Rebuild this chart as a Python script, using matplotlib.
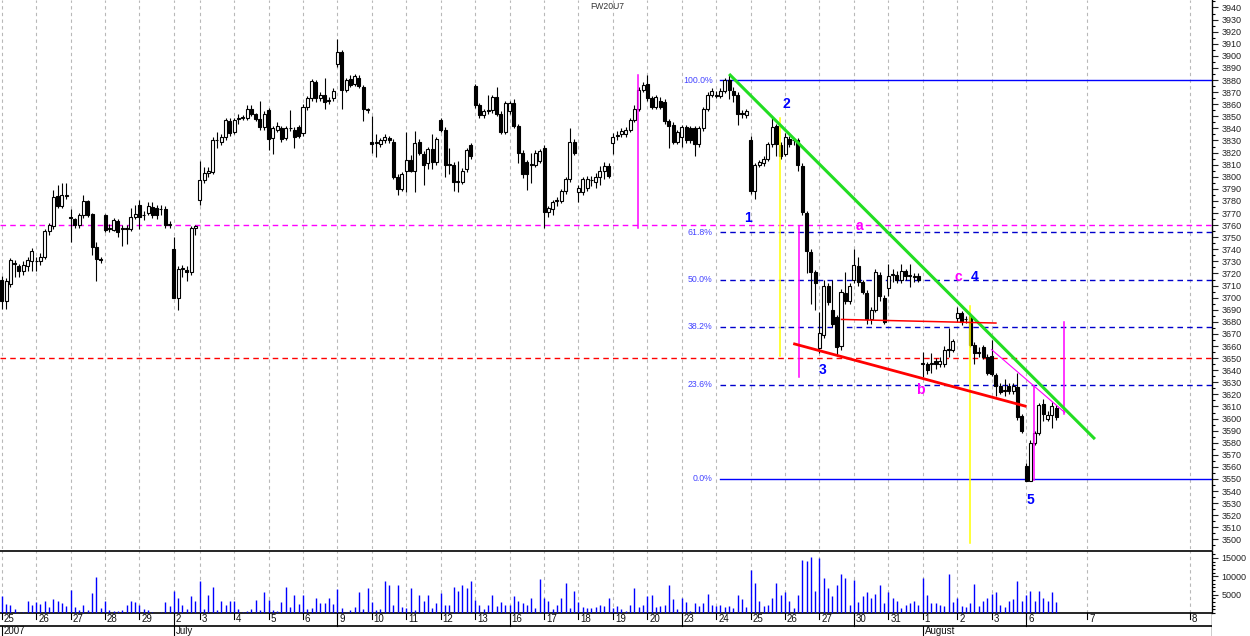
import numpy as np
import matplotlib
matplotlib.use("Agg")
import matplotlib.pyplot as plt
from matplotlib.ticker import MultipleLocator, FixedLocator

plt.rcParams['font.family'] = ['Liberation Sans', 'DejaVu Sans']

title = "FW20U7"

# trading days shown and number of bars per day
day_labels = ['25', '26', '27', '28', '29', '2', '3', '4', '5', '6', '9', '10', '11', '12', '13',
              '16', '17', '18', '19', '20', '23', '24', '25', '26', '27', '30', '31', '1', '2', '3', '6']
bars_per_day = [8, 8, 8, 8, 8, 6, 8, 8, 8, 8, 8, 8, 8, 8, 8,
                8, 8, 8, 8, 8, 8, 8, 8, 8, 8, 8, 8, 8, 8, 8, 8]
future_labels = ['7', '8']
future_pos = [252.2, 276.1]
month_labels = ['2007', 'July', 'August']
month_first_day = [0, 5, 27]
week_first_day = [5, 10, 15, 20, 25, 30]

# OHLC, one row per day
opens = [
    3715, 3697, 3711, 3729, 3726, 3722, 3726, 3730,
    3730, 3730, 3734, 3755, 3759, 3784, 3776, 3784,
    3766, 3765, 3760, 3768, 3780, 3769, 3742, 3732,
    3768, 3757, 3756, 3763, 3757, 3757, 3757, 3767,
    3777, 3768, 3770, 3775, 3774, 3773, 3773, 3760,
    3740, 3700, 3724, 3723, 3721, 3758,
    3781, 3797, 3803, 3804, 3830, 3829, 3833, 3846,
    3837, 3848, 3849, 3849, 3856, 3852, 3848, 3841,
    3855, 3832, 3839, 3840, 3832, 3840, 3839, 3841,
    3836, 3858, 3865, 3878, 3865, 3868, 3863, 3865,
    3893, 3903, 3872, 3881, 3877, 3882, 3874, 3855,
    3829, 3828, 3827, 3830, 3832, 3829, 3800, 3790,
    3805, 3814, 3805, 3829, 3819, 3811, 3823, 3812,
    3847, 3839, 3810, 3810, 3796, 3796, 3806, 3826,
    3875, 3859, 3851, 3854, 3855, 3866, 3852, 3837,
    3854, 3861, 3842, 3820, 3812, 3810, 3810, 3813,
    3824, 3771, 3773, 3780, 3780, 3788, 3798, 3829,
    3787, 3787, 3791, 3797, 3796, 3800, 3805, 3809,
    3828, 3834, 3835, 3835, 3839, 3847, 3856, 3872,
    3877, 3865, 3858, 3863, 3862, 3846, 3843, 3829,
    3833, 3841, 3840, 3840, 3827, 3840, 3856, 3868,
    3867, 3867, 3871, 3880, 3871, 3868, 3853, 3851,
    3830, 3788, 3810, 3811, 3815, 3827, 3842, 3826,
    3819, 3831, 3830, 3830, 3809, 3770, 3738, 3721,
    3658, 3669, 3710, 3690, 3684, 3660, 3704, 3697,
    3715, 3726, 3713, 3704, 3682, 3690, 3719, 3700,
    3708, 3719, 3719, 3715, 3722, 3718, 3717, 3718,
    3645, 3645, 3645, 3648, 3645, 3645, 3657, 3657,
    3683, 3687, 3682, 3685, 3661, 3654, 3659, 3651,
    3652, 3636, 3627, 3623, 3627, 3623, 3626, 3602,
    3561, 3548, 3580, 3588, 3612, 3600, 3603, 3609,
]
highs = [
    3718, 3716, 3733, 3731, 3728, 3730, 3734, 3741,
    3734, 3737, 3757, 3762, 3789, 3793, 3795, 3795,
    3773, 3766, 3770, 3785, 3781, 3770, 3746, 3734,
    3769, 3761, 3766, 3765, 3760, 3760, 3774, 3777,
    3781, 3772, 3779, 3779, 3777, 3777, 3776, 3763,
    3750, 3726, 3727, 3726, 3759, 3760,
    3813, 3808, 3808, 3833, 3837, 3835, 3849, 3849,
    3849, 3852, 3851, 3859, 3859, 3853, 3863, 3854,
    3857, 3842, 3845, 3842, 3842, 3855, 3841, 3843,
    3860, 3867, 3881, 3880, 3870, 3882, 3866, 3873,
    3914, 3905, 3882, 3884, 3885, 3884, 3876, 3857,
    3850, 3835, 3832, 3835, 3834, 3831, 3802, 3804,
    3837, 3818, 3838, 3831, 3821, 3825, 3835, 3833,
    3849, 3841, 3824, 3812, 3813, 3807, 3824, 3828,
    3877, 3861, 3856, 3868, 3868, 3874, 3854, 3863,
    3863, 3864, 3844, 3822, 3814, 3820, 3822, 3823,
    3826, 3776, 3781, 3783, 3790, 3800, 3840, 3831,
    3793, 3800, 3801, 3801, 3803, 3809, 3812, 3811,
    3836, 3838, 3840, 3841, 3849, 3859, 3874, 3878,
    3884, 3867, 3868, 3866, 3864, 3848, 3845, 3839,
    3843, 3843, 3842, 3842, 3842, 3858, 3870, 3873,
    3871, 3873, 3882, 3884, 3874, 3870, 3855, 3856,
    3834, 3811, 3814, 3817, 3829, 3849, 3844, 3829,
    3836, 3834, 3832, 3832, 3811, 3772, 3740, 3723,
    3688, 3715, 3712, 3715, 3686, 3707, 3721, 3712,
    3740, 3734, 3715, 3706, 3692, 3724, 3721, 3702,
    3728, 3724, 3722, 3728, 3724, 3728, 3720, 3720,
    3655, 3647, 3654, 3650, 3651, 3660, 3675, 3666,
    3692, 3689, 3685, 3687, 3663, 3659, 3661, 3653,
    3665, 3638, 3629, 3633, 3629, 3629, 3638, 3604,
    3563, 3582, 3590, 3613, 3616, 3606, 3614, 3611,
]
lows = [
    3691, 3691, 3709, 3717, 3717, 3719, 3722, 3722,
    3722, 3727, 3732, 3752, 3757, 3774, 3774, 3782,
    3746, 3758, 3758, 3766, 3767, 3735, 3714, 3729,
    3754, 3754, 3755, 3750, 3743, 3744, 3755, 3765,
    3757, 3764, 3768, 3766, 3765, 3768, 3758, 3758,
    3700, 3690, 3717, 3714, 3719, 3752,
    3777, 3795, 3800, 3802, 3824, 3826, 3830, 3834,
    3835, 3844, 3847, 3847, 3850, 3846, 3839, 3839,
    3822, 3819, 3837, 3829, 3830, 3838, 3824, 3832,
    3834, 3855, 3863, 3862, 3863, 3856, 3860, 3863,
    3891, 3856, 3870, 3874, 3875, 3873, 3846, 3853,
    3820, 3816, 3825, 3828, 3828, 3798, 3785, 3788,
    3787, 3804, 3787, 3818, 3793, 3806, 3806, 3810,
    3837, 3800, 3802, 3788, 3787, 3794, 3804, 3815,
    3857, 3849, 3849, 3852, 3853, 3850, 3835, 3835,
    3852, 3840, 3811, 3799, 3789, 3795, 3808, 3811,
    3758, 3767, 3768, 3776, 3778, 3786, 3796, 3818,
    3779, 3785, 3788, 3792, 3791, 3793, 3798, 3799,
    3819, 3830, 3833, 3833, 3837, 3845, 3854, 3870,
    3863, 3856, 3856, 3856, 3844, 3824, 3827, 3827,
    3825, 3828, 3828, 3817, 3825, 3838, 3854, 3866,
    3865, 3865, 3869, 3864, 3862, 3843, 3849, 3849,
    3786, 3782, 3808, 3809, 3813, 3825, 3817, 3815,
    3817, 3825, 3826, 3805, 3768, 3720, 3695, 3690,
    3654, 3667, 3694, 3676, 3652, 3657, 3695, 3695,
    3712, 3710, 3703, 3678, 3678, 3688, 3697, 3678,
    3701, 3713, 3712, 3712, 3715, 3709, 3713, 3713,
    3634, 3637, 3638, 3641, 3643, 3643, 3651, 3655,
    3680, 3677, 3679, 3659, 3645, 3651, 3649, 3636,
    3635, 3619, 3620, 3619, 3620, 3620, 3599, 3588,
    3549, 3549, 3578, 3586, 3598, 3598, 3592, 3599,
]
closes = [
    3697, 3714, 3731, 3728, 3722, 3727, 3731, 3739,
    3730, 3734, 3755, 3760, 3783, 3776, 3785, 3784,
    3766, 3760, 3768, 3780, 3768, 3742, 3732, 3731,
    3756, 3757, 3764, 3754, 3757, 3757, 3767, 3769,
    3767, 3768, 3776, 3768, 3768, 3773, 3760, 3760,
    3700, 3724, 3724, 3721, 3758, 3759,
    3797, 3803, 3805, 3830, 3830, 3833, 3847, 3836,
    3847, 3848, 3849, 3856, 3852, 3848, 3841, 3852,
    3831, 3840, 3842, 3831, 3840, 3840, 3833, 3834,
    3858, 3865, 3879, 3865, 3868, 3862, 3863, 3871,
    3903, 3872, 3880, 3876, 3883, 3875, 3856, 3855,
    3827, 3828, 3830, 3833, 3830, 3800, 3790, 3802,
    3814, 3805, 3828, 3820, 3810, 3823, 3812, 3831,
    3839, 3810, 3810, 3796, 3796, 3805, 3822, 3817,
    3859, 3851, 3854, 3855, 3866, 3852, 3837, 3861,
    3861, 3842, 3820, 3802, 3802, 3810, 3820, 3821,
    3771, 3774, 3779, 3780, 3788, 3798, 3829, 3820,
    3791, 3798, 3798, 3797, 3800, 3805, 3809, 3801,
    3833, 3834, 3838, 3839, 3847, 3856, 3872, 3876,
    3865, 3858, 3866, 3858, 3846, 3842, 3829, 3837,
    3841, 3830, 3830, 3827, 3840, 3856, 3868, 3871,
    3867, 3871, 3880, 3872, 3868, 3852, 3852, 3854,
    3788, 3810, 3812, 3815, 3827, 3841, 3827, 3817,
    3833, 3827, 3830, 3810, 3771, 3739, 3721, 3712,
    3671, 3710, 3696, 3678, 3659, 3705, 3697, 3710,
    3727, 3713, 3705, 3682, 3690, 3721, 3701, 3680,
    3718, 3719, 3715, 3722, 3718, 3718, 3717, 3715,
    3645, 3640, 3645, 3645, 3648, 3657, 3657, 3664,
    3687, 3680, 3682, 3661, 3654, 3654, 3651, 3638,
    3637, 3627, 3622, 3623, 3623, 3627, 3601, 3590,
    3548, 3580, 3588, 3611, 3604, 3603, 3610, 3601,
]
volumes = [
    4500, 2500, 2100, 1200, 300, 300, 3400, 2100,
    3000, 2500, 3200, 1600, 3900, 3400, 2700, 1800,
    6300, 1600, 900, 2100, 700, 5500, 9700, 1300,
    3400, 700, 500, 500, 900, 2300, 3400, 3000,
    2300, 1200, 900, 300, 100, 300, 2900, 1800,
    5900, 4100, 2100, 1000, 4500, 3400,
    8600, 1200, 5000, 7200, 900, 3400, 2100, 3400,
    3400, 1200, 300, 500, 1200, 3600, 700, 5600,
    3600, 700, 500, 2900, 7200, 1500, 5000, 2500,
    4800, 1000, 1300, 4100, 2600, 2600, 4100, 2500,
    6600, 1300, 300, 700, 1500, 5600, 1000, 6800,
    2900, 900, 1000, 8700, 7500, 2100, 7500, 1600,
    1300, 6800, 700, 4800, 3200, 5000, 1300, 2600,
    5500, 2100, 2100, 7200, 5900, 7700, 6700, 8600,
    3600, 2100, 1000, 2100, 4800, 1800, 2900, 2100,
    2100, 4500, 3200, 2600, 2100, 4000, 1300, 9400,
    4000, 3200, 1200, 2100, 4200, 8300, 1300, 5900,
    2900, 1500, 1300, 1300, 1500, 2300, 1800, 4200,
    1300, 1800, 1000, 500, 2300, 6700, 1600, 2100,
    4500, 5000, 1500, 1800, 2100, 7700, 3700, 1000,
    4000, 2900, 500, 2600, 1800, 2600, 5300, 2100,
    1800, 2100, 1500, 1800, 1300, 4800, 3700, 1500,
    11800, 8300, 3400, 1800, 2100, 4200, 8300, 4800,
    5600, 3200, 1300, 5000, 14500, 14200, 15300, 5900,
    15000, 9600, 6900, 4500, 7500, 10700, 9600, 2300,
    9100, 2900, 4500, 5600, 4000, 5300, 7700, 2600,
    5600, 4000, 3200, 1300, 2300, 2600, 3400, 2100,
    9600, 4800, 2600, 2600, 2100, 1800, 10700, 2900,
    4000, 1800, 1500, 2600, 8000, 1800, 3400, 4200,
    5300, 5600, 2300, 1500, 3400, 3700, 8800, 3400,
    5000, 6100, 3200, 6100, 4200, 3400, 5600, 2900,
]

# drawn studies (bar index, price)
support_level = 3760
resist_level = 3650
fib_high, fib_low = 3880, 3550
fib_ratios = [1.0, 0.618, 0.5, 0.382, 0.236, 0.0]
fib_start = 166.9
green_trend = ([169, 254], [3885, 3583])
red_trend = ([183.9, 238.1], [3662, 3610])
red_flat = ([195.1, 231.0], [3682, 3679])
pink_trend = ([230, 247], [3657, 3605])
vert_lines = [(147.9, 3758, 3884, '#ff00ff'), (180.9, 3652, 3849, '#ffff00'),
              (185.2, 3634, 3759, '#ff00ff'), (225.0, 3497, 3693, '#ffff00'),
              (239.9, 3549, 3627, '#ff00ff'), (246.9, 3604, 3680, '#ff00ff')]
wave_labels = [('1', 173.4, 3766, 'blue'), ('2', 182.2, 3860, 'blue'), ('3', 190.8, 3640, 'blue'),
               ('a', 199.4, 3759, '#ff00ff'), ('b', 213.4, 3624, '#ff00ff'),
               ('c', 222.3, 3717, '#ff00ff'), ('4', 226.1, 3717, 'blue'), ('5', 238.9, 3533, 'blue')]

o, h, l, c = (np.array(v, dtype=float) for v in (opens, highs, lows, closes))
x = np.arange(len(o))
day_starts = np.concatenate([[0], np.cumsum(bars_per_day)[:-1]])
grid_pos = list(day_starts) + future_pos
xlim = (-0.4, 281.2)

W, H = 1250, 636
fig = plt.figure(figsize=(W / 100, H / 100), dpi=100)
ax = fig.add_axes([0, 1 - 549 / H, 1212 / W, 549 / H])
axv = fig.add_axes([0, 23 / H, 1212 / W, 62 / H])
axd = fig.add_axes([0, 0, 1212 / W, 23 / H])

grid_style = dict(color='#b8b8b8', lw=0.8, ls=(0, (3, 3)), zorder=0)
for a in (ax, axv):
    for g in grid_pos:
        a.axvline(g, **grid_style)
    a.set_xlim(*xlim)
    a.set_xticks([])
    for s in ('left', 'top', 'bottom'):
        a.spines[s].set_visible(False)
    a.spines['right'].set_linewidth(1.0)
    a.yaxis.tick_right()
    a.tick_params(axis='y', which='major', length=4, width=0.8, labelsize=6.5, pad=3, colors='#222222')
    a.tick_params(axis='y', which='minor', length=2, width=0.8)

# price panel
ax.set_ylim(3492.1, 3946.2)
ax.yaxis.set_major_locator(FixedLocator(np.arange(3500, 3941, 10)))
ax.yaxis.set_minor_locator(MultipleLocator(5))

ax.axhline(support_level, color='#ff00ff', lw=1.0, ls=(0, (4, 3)), zorder=1)
ax.axhline(resist_level, color='#ff0000', lw=1.0, ls=(0, (4, 3)), zorder=1)

for r in fib_ratios:
    lev = fib_low + r * (fib_high - fib_low)
    solid = r in (0.0, 1.0)
    ax.plot([fib_start, xlim[1]], [lev, lev], color='#0000ff' if solid else '#0000cc',
            lw=1.0, ls='-' if solid else (0, (4, 3)), zorder=1)
    ax.text(fib_start - 1.7, lev, f"{r * 100:.1f}%", ha='right', va='center',
            fontsize=6.3, color='#4444ff')

ax.vlines(x, l, h, color='black', lw=0.8, zorder=3)
body = np.maximum(np.abs(c - o), 0.7)
ax.bar(x, body, bottom=np.minimum(o, c), width=0.7,
       color=np.where(c >= o, 'white', 'black'), edgecolor='black', linewidth=0.8, zorder=4)

for px, lo, hi, col in vert_lines:
    ax.plot([px, px], [lo, hi], color=col, lw=1.1, zorder=5)
ax.plot(*green_trend, color='#22dd22', lw=2.2, zorder=6, solid_capstyle='butt')
ax.plot(*red_trend, color='#ff0000', lw=2.0, zorder=6, solid_capstyle='butt')
ax.plot(*red_flat, color='#ff0000', lw=1.1, zorder=6)
ax.plot(*pink_trend, color='#ff00ff', lw=0.8, zorder=6)

for txt, px, py, col in wave_labels:
    ax.text(px, py, txt, color=col, fontsize=10, fontweight='bold', ha='center', va='center', zorder=7)

ax.text(0.501, 0.989, title, transform=ax.transAxes, ha='center', va='center',
        fontsize=6.2, color='#333333')

# volume panel
axv.vlines(x, 0, volumes, color='#0000ff', lw=1.0, zorder=3)
axv.set_ylim(0, 16900)
axv.yaxis.set_major_locator(FixedLocator([5000, 10000, 15000]))
axv.yaxis.set_minor_locator(MultipleLocator(1000))
axv.spines['top'].set_visible(True)
axv.spines['top'].set_linewidth(1.2)
axv.spines['bottom'].set_visible(True)
axv.spines['bottom'].set_linewidth(1.2)

# date strip
axd.set_xlim(*xlim)
axd.set_ylim(0, 1)
axd.axis('off')
axd.plot([xlim[0], xlim[1]], [0.45, 0.45], color='black', lw=1.2)
axd.plot([xlim[1], xlim[1]], [0, 1], color='black', lw=1.0)
for g, lab in zip(grid_pos, day_labels + future_labels):
    axd.plot([g, g], [1, 0.75], color='black', lw=0.8)
    axd.text(g + 0.45, 0.72, lab, ha='left', va='center', fontsize=7, color='#111111')
for d in week_first_day:
    g = day_starts[d]
    axd.plot([g, g], [1, 0.45], color='black', lw=0.8)
for d, lab in zip(month_first_day, month_labels):
    g = day_starts[d]
    axd.plot([g, g], [0.45, 0], color='black', lw=0.8)
    axd.text(g + 0.45, 0.2, lab, ha='left', va='center', fontsize=7, color='#111111')

fig.savefig('out.png', dpi=100)
